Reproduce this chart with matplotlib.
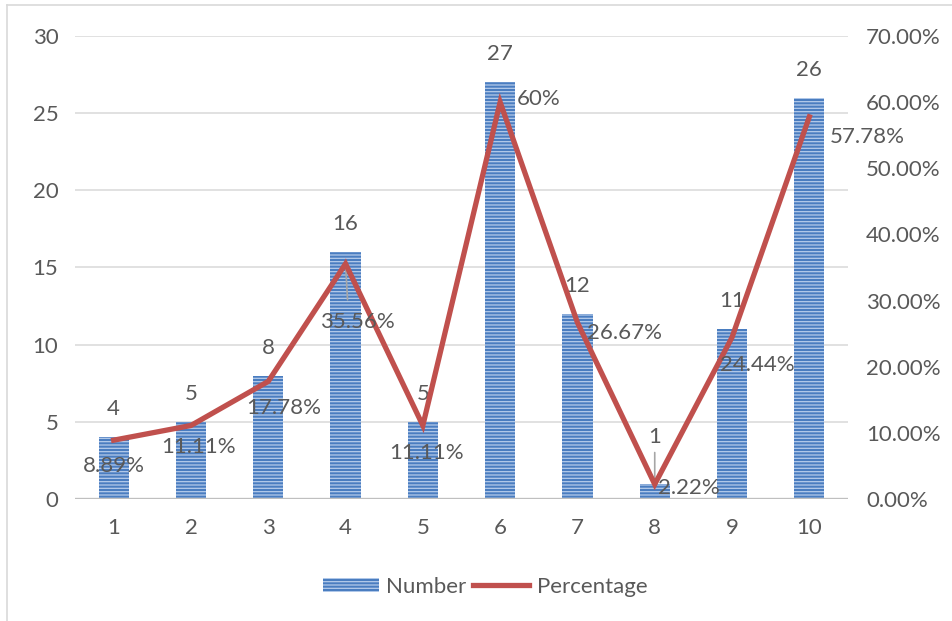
import matplotlib
matplotlib.use("Agg")
import matplotlib.pyplot as plt
from matplotlib.lines import Line2D
from matplotlib.patches import Patch

# --- data ---
categories = ["1", "2", "3", "4", "5", "6", "7", "8", "9", "10"]
numbers = [4, 5, 8, 16, 5, 27, 12, 1, 11, 26]
percentages = [8.89, 11.11, 17.78, 35.56, 11.11, 60, 26.67, 2.22, 24.44, 57.78]
left_ticks = [0, 5, 10, 15, 20, 25, 30]
right_ticks = [0, 10, 20, 30, 40, 50, 60, 70]

# label placement (pixel offsets from the anchor point)
num_offsets = [(0, 28)] * 10
num_offsets[7] = (0, 47)
pct_offsets = [(0, -26), (8, -22), (15, -27), (12, -58), (4, -28),
               (38, 3), (47, -10), (34, -4), (25, -28), (58, -20)]

plt.rcParams["font.family"] = ["Lato", "DejaVu Sans"]
plt.rcParams["hatch.linewidth"] = 0.9
TEXT = "#595959"
BAR = "#4a7dc0"
STRIPE = "#b4cbea"
LINE = "#c0504d"
GRID = "#d9d9d9"
FS = 16

fig = plt.figure(figsize=(9.53, 6.21), dpi=100)
ax = fig.add_axes([0.0787, 0.1965, 0.8111, 0.7455])
ax2 = ax.twinx()

x = list(range(len(categories)))
ax.bar(x, numbers, width=0.39, color=BAR, edgecolor=STRIPE, hatch="-----",
       linewidth=0, zorder=2)
ax.set_xlim(-0.5, len(categories) - 0.5)
ax.set_ylim(0, 30)
ax.set_yticks(left_ticks)
ax.set_yticklabels([str(t) for t in left_ticks])
ax.set_xticks(x)
ax.set_xticklabels(categories)
ax.grid(axis="y", color=GRID, linewidth=1.1, zorder=0)
ax.set_axisbelow(True)
ax.axhline(0, color="#bfbfbf", linewidth=2.4, zorder=3)
ax.tick_params(axis="both", length=0, labelsize=FS, labelcolor=TEXT)
ax.tick_params(axis="x", pad=14)
ax.tick_params(axis="y", pad=12)

ax2.plot(x, percentages, color=LINE, linewidth=3.8, zorder=4,
         solid_joinstyle="miter")
ax2.set_ylim(0, 70)
ax2.set_yticks(right_ticks)
ax2.set_yticklabels([f"{t:.2f}%" for t in right_ticks])
ax2.tick_params(axis="y", length=0, labelsize=FS, labelcolor=TEXT, pad=13)

for a in (ax, ax2):
    for s in a.spines.values():
        s.set_visible(False)

# value labels above the bars
for i, (n, off) in enumerate(zip(numbers, num_offsets)):
    ax.annotate(str(n), (i, n), xytext=off, textcoords="offset pixels",
                ha="center", va="center", fontsize=FS, color=TEXT, zorder=6)

# leader line for the smallest bar
ax.annotate("", (7, 1), xytext=(0, 31), textcoords="offset pixels",
            arrowprops=dict(arrowstyle="-", color="#a6a6a6", lw=1.2,
                            shrinkA=0, shrinkB=0))

# percentage labels next to the line points
for i, (p, off) in enumerate(zip(percentages, pct_offsets)):
    label = f"{p:g}%" if float(p).is_integer() else f"{p:.2f}%"
    ax2.annotate(label, (i, p), xytext=off, textcoords="offset pixels",
                 ha="center", va="center", fontsize=FS, color=TEXT, zorder=6)

# leader line for the 4th percentage label
ax2.annotate("", (3, percentages[3]), xytext=(2, -36), textcoords="offset pixels",
             arrowprops=dict(arrowstyle="-", color="#a6a6a6", lw=1.2,
                             shrinkA=0, shrinkB=0))

handles = [Patch(facecolor=BAR, edgecolor=STRIPE, hatch="-----", linewidth=0,
                 label="Number"),
           Line2D([0], [0], color=LINE, linewidth=3.8, label="Percentage")]
fig.legend(handles=handles, loc="center", bbox_to_anchor=(0.509, 0.055),
           ncol=2, frameon=False, fontsize=FS, labelcolor=TEXT,
           handlelength=2.5, handleheight=0.6, handletextpad=0.35,
           columnspacing=0.3)

# chart frame edges
fig.add_artist(Line2D([0.007, 0.007], [0.0, 0.992], transform=fig.transFigure,
                      color=GRID, linewidth=1.2))
fig.add_artist(Line2D([0.007, 1.0], [0.992, 0.992], transform=fig.transFigure,
                      color=GRID, linewidth=1.2))

fig.savefig("out.png", dpi=100, facecolor="white")
